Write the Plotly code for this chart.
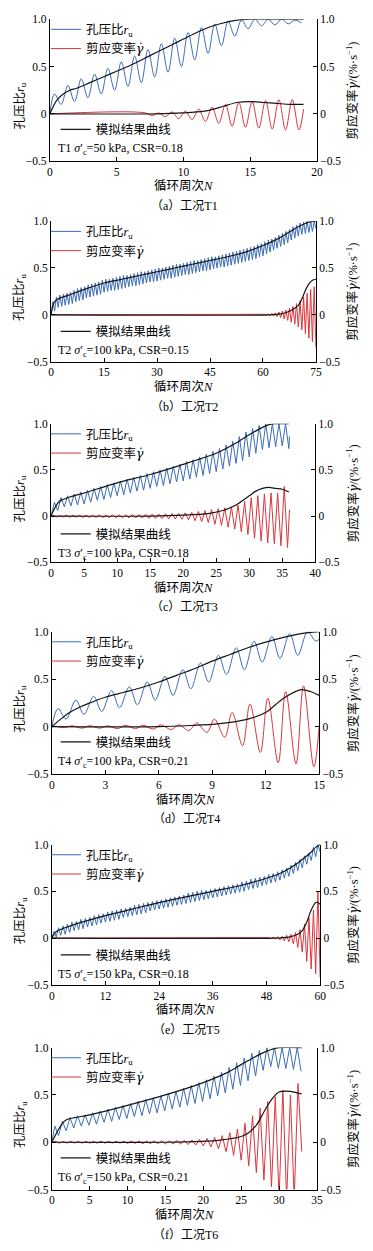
import plotly.graph_objects as go

W, H = 373, 1251
FONT = "Liberation Serif, Noto Sans CJK SC, serif"
BLUE = "#3b6db5"
RED = "#db353c"
BLACK = "#161616"

# ================= DATA =================
# T1
t1_xticks = [0, 5, 10, 15, 20]
t1_ru_hi = [0.21, 0.30, 0.37, 0.42, 0.48, 0.55, 0.61, 0.68, 0.74, 0.80,
            0.86, 0.91, 0.95, 0.98, 0.99, 1.00, 1.00, 1.00, 0.99]
t1_ru_lo = [0.10, 0.13, 0.17, 0.21, 0.25, 0.29, 0.33, 0.39, 0.44, 0.50,
            0.57, 0.64, 0.72, 0.82, 0.90, 0.93, 0.94, 0.95, 0.96]
t1_g_hi = [0.01, 0.01, 0.02, 0.03, 0.05, 0.07, 0.10, 0.12, 0.13, 0.14, 0.15, 0.15]
t1_g_lo = [-0.02, -0.03, -0.05, -0.06, -0.08, -0.10, -0.13, -0.14, -0.15, -0.16, -0.17, -0.17]
t1_g_end = [19.0, 0.05]
t1_m_N = [0, 0.5, 1, 1.5, 2, 3, 4, 5, 6, 7, 8, 9, 10, 11, 12, 13, 14, 15, 17, 19]
t1_m_ru = [0, 0.14, 0.21, 0.25, 0.27, 0.33, 0.39, 0.45, 0.51, 0.58, 0.65, 0.72, 0.79, 0.86, 0.92, 0.96, 0.99, 1.0, 1.0, 1.0]
t1_m_gN = [0, 8, 10, 11, 12, 13, 14, 15, 16, 17, 18, 19]
t1_m_g = [0, 0, 0.01, 0.02, 0.04, 0.08, 0.12, 0.13, 0.12, 0.11, 0.10, 0.10]

# T2
t2_xticks = [0, 15, 30, 45, 60, 75]
t2_ru_hi = [0.14, 0.19, 0.21, 0.22, 0.23, 0.24, 0.26, 0.28, 0.29, 0.30,
            0.32, 0.33, 0.34, 0.35, 0.37, 0.38, 0.38, 0.39, 0.40, 0.41,
            0.42, 0.42, 0.43, 0.44, 0.45, 0.46, 0.46, 0.47, 0.48, 0.49,
            0.50, 0.50, 0.51, 0.52, 0.53, 0.54, 0.54, 0.55, 0.56, 0.57,
            0.58, 0.58, 0.59, 0.60, 0.61, 0.62, 0.62, 0.63, 0.64, 0.65,
            0.66, 0.67, 0.68, 0.69, 0.70, 0.71, 0.72, 0.73, 0.75, 0.76,
            0.78, 0.80, 0.81, 0.83, 0.85, 0.87, 0.89, 0.91, 0.94, 0.96,
            0.98, 0.99, 1.00, 1.00, 1.00]
t2_ru_lo = [0.04, 0.08, 0.09, 0.10, 0.11, 0.12, 0.14, 0.15, 0.16, 0.18,
            0.19, 0.20, 0.21, 0.22, 0.24, 0.25, 0.26, 0.26, 0.27, 0.28,
            0.29, 0.30, 0.31, 0.31, 0.32, 0.33, 0.34, 0.35, 0.35, 0.36,
            0.37, 0.38, 0.39, 0.39, 0.40, 0.41, 0.42, 0.43, 0.43, 0.44,
            0.45, 0.46, 0.47, 0.47, 0.48, 0.49, 0.50, 0.51, 0.51, 0.52,
            0.53, 0.54, 0.55, 0.56, 0.57, 0.58, 0.59, 0.60, 0.62, 0.63,
            0.65, 0.67, 0.69, 0.71, 0.73, 0.75, 0.77, 0.80, 0.82, 0.84,
            0.86, 0.87, 0.88, 0.89, 0.92]
t2_g_hi = [0.005, 0.01, 0.015, 0.02, 0.03, 0.04, 0.05, 0.07, 0.09, 0.12, 0.15, 0.19, 0.23, 0.27, 0.30]
t2_g_lo = [-0.005, -0.01, -0.015, -0.02, -0.03, -0.045, -0.06, -0.08, -0.10, -0.13, -0.16, -0.20, -0.25, -0.29, -0.35]
t2_m_N = [0, 0.5, 1, 2, 5, 10, 15, 20, 25, 30, 35, 40, 45, 50, 55, 60, 63, 66, 69, 71, 73, 75]
t2_m_ru = [0, 0.10, 0.14, 0.17, 0.21, 0.28, 0.34, 0.38, 0.42, 0.46, 0.50, 0.54, 0.58, 0.62, 0.67, 0.74, 0.79, 0.85, 0.92, 0.96, 0.99, 1.0]
t2_m_gN = [0, 62, 65, 67, 69, 70, 71, 72, 73, 74, 75]
t2_m_g = [0, 0, 0.01, 0.03, 0.07, 0.10, 0.17, 0.26, 0.33, 0.37, 0.38]

# T3
t3_xticks = [0, 5, 10, 15, 20, 25, 30, 35, 40]
t3_ru_hi = [0.15, 0.20, 0.22, 0.24, 0.26, 0.28, 0.30, 0.32, 0.34, 0.36,
            0.38, 0.40, 0.42, 0.44, 0.46, 0.48, 0.50, 0.52, 0.54, 0.56,
            0.59, 0.61, 0.64, 0.67, 0.70, 0.73, 0.77, 0.81, 0.86, 0.91,
            0.95, 0.98, 1.00, 1.00, 1.00, 1.00]
t3_ru_lo = [0.06, 0.10, 0.11, 0.12, 0.13, 0.15, 0.17, 0.18, 0.20, 0.22,
            0.23, 0.25, 0.27, 0.28, 0.30, 0.32, 0.33, 0.35, 0.37, 0.38,
            0.40, 0.42, 0.44, 0.46, 0.48, 0.51, 0.54, 0.57, 0.60, 0.64,
            0.68, 0.72, 0.74, 0.75, 0.76, 0.73]
t3_ru_end = [36.1, 0.86]
t3_g_hi = [0.005, 0.005, 0.008, 0.008, 0.01, 0.01, 0.01, 0.012, 0.012, 0.015,
           0.015, 0.015, 0.018, 0.018, 0.02, 0.02, 0.022, 0.025, 0.028, 0.03,
           0.035, 0.04, 0.05, 0.06, 0.07, 0.08, 0.09, 0.10, 0.12, 0.16,
           0.20, 0.22, 0.24, 0.25, 0.25, 0.32]
t3_g_lo = [-0.01, -0.01, -0.012, -0.012, -0.015, -0.015, -0.015, -0.018, -0.018, -0.02,
           -0.02, -0.02, -0.022, -0.022, -0.025, -0.025, -0.028, -0.03, -0.032, -0.035,
           -0.04, -0.05, -0.06, -0.07, -0.09, -0.10, -0.12, -0.14, -0.17, -0.20,
           -0.24, -0.27, -0.29, -0.30, -0.32, -0.34]
t3_g_end = [36.1, 0.07]
t3_m_N = [0, 0.5, 1, 1.5, 3, 5, 10, 15, 20, 25, 28, 30, 32, 33, 34, 36]
t3_m_ru = [0, 0.08, 0.14, 0.17, 0.21, 0.25, 0.36, 0.45, 0.56, 0.68, 0.79, 0.88, 0.96, 0.99, 1.0, 1.0]
t3_m_gN = [0, 15, 20, 24, 26, 28, 30, 31, 32, 33, 34, 35, 36]
t3_m_g = [0, 0, 0.01, 0.03, 0.06, 0.12, 0.22, 0.27, 0.30, 0.31, 0.30, 0.29, 0.26]

# T4
t4_xticks = [0, 3, 6, 9, 12, 15]
t4_ru_hi = [0.19, 0.28, 0.32, 0.38, 0.42, 0.47, 0.53, 0.60, 0.67, 0.75, 0.83, 0.90, 0.95, 0.98, 1.00]
t4_ru_lo = [0.08, 0.13, 0.16, 0.20, 0.23, 0.28, 0.33, 0.40, 0.47, 0.55, 0.60, 0.68, 0.72, 0.75, 0.90]
t4_ru_end = [15.0, 0.92]
t4_g_hi = [0.005, 0.01, 0.01, 0.01, 0.015, 0.015, 0.02, 0.02, 0.04, 0.08, 0.15, 0.24, 0.30, 0.37, 0.43]
t4_g_lo = [-0.01, -0.015, -0.015, -0.02, -0.02, -0.025, -0.03, -0.04, -0.06, -0.11, -0.20, -0.27, -0.38, -0.39, -0.42]
t4_g_end = [15.0, 0.0]
t4_m_N = [0, 0.5, 1, 1.5, 2, 3, 4, 5, 6, 7, 8, 9, 10, 11, 12, 13, 14, 15]
t4_m_ru = [0, 0.08, 0.15, 0.20, 0.24, 0.31, 0.36, 0.41, 0.47, 0.54, 0.61, 0.69, 0.76, 0.83, 0.89, 0.94, 0.98, 1.0]
t4_m_gN = [0, 6, 8, 9, 10, 11, 12, 13, 14, 14.5, 15]
t4_m_g = [0, 0, 0.015, 0.025, 0.045, 0.08, 0.15, 0.30, 0.39, 0.37, 0.33]

# T5
t5_xticks = [0, 12, 24, 36, 48, 60]
t5_ru_hi = [0.07, 0.11, 0.13, 0.15, 0.17, 0.18, 0.20, 0.21, 0.22, 0.24,
            0.25, 0.26, 0.28, 0.29, 0.30, 0.31, 0.32, 0.33, 0.35, 0.36,
            0.37, 0.38, 0.39, 0.40, 0.41, 0.42, 0.43, 0.44, 0.45, 0.46,
            0.48, 0.49, 0.50, 0.51, 0.51, 0.52, 0.53, 0.54, 0.55, 0.56,
            0.57, 0.58, 0.60, 0.61, 0.63, 0.64, 0.65, 0.66, 0.68, 0.69,
            0.71, 0.73, 0.75, 0.78, 0.81, 0.84, 0.88, 0.91, 0.97, 1.00]
t5_ru_lo = [0.01, 0.03, 0.04, 0.06, 0.08, 0.09, 0.10, 0.12, 0.13, 0.14,
            0.16, 0.17, 0.18, 0.19, 0.20, 0.22, 0.23, 0.24, 0.25, 0.26,
            0.27, 0.29, 0.30, 0.31, 0.32, 0.33, 0.34, 0.35, 0.36, 0.37,
            0.38, 0.39, 0.40, 0.41, 0.42, 0.43, 0.44, 0.45, 0.46, 0.47,
            0.48, 0.49, 0.50, 0.52, 0.53, 0.54, 0.56, 0.57, 0.59, 0.60,
            0.62, 0.64, 0.66, 0.69, 0.72, 0.75, 0.79, 0.83, 0.87, 0.92]
t5_g_hi = [0.005, 0.01, 0.015, 0.02, 0.03, 0.04, 0.06, 0.09, 0.15, 0.22, 0.30, 0.50]
t5_g_lo = [-0.005, -0.01, -0.02, -0.03, -0.04, -0.06, -0.10, -0.15, -0.25, -0.33, -0.38, -0.42]
t5_m_N = [0, 1, 3, 6, 12, 18, 24, 30, 36, 42, 48, 51, 54, 56, 58, 59, 60]
t5_m_ru = [0, 0.07, 0.11, 0.16, 0.24, 0.31, 0.38, 0.44, 0.50, 0.56, 0.64, 0.69, 0.77, 0.84, 0.92, 0.97, 1.0]
t5_m_gN = [0, 50, 53, 55, 56, 57, 58, 59, 59.5, 60]
t5_m_g = [0, 0, 0.01, 0.04, 0.08, 0.17, 0.30, 0.38, 0.38, 0.36]

# T6
t6_xticks = [0, 5, 10, 15, 20, 25, 30, 35]
t6_ru_hi = [0.17, 0.22, 0.26, 0.28, 0.29, 0.31, 0.33, 0.35, 0.37, 0.39,
            0.41, 0.43, 0.45, 0.47, 0.49, 0.52, 0.54, 0.57, 0.60, 0.63,
            0.66, 0.70, 0.74, 0.79, 0.84, 0.89, 0.94, 0.97, 1.00, 1.00,
            1.00, 1.00, 1.00]
t6_ru_lo = [0.07, 0.12, 0.15, 0.17, 0.18, 0.19, 0.21, 0.22, 0.24, 0.25,
            0.27, 0.28, 0.30, 0.31, 0.33, 0.35, 0.37, 0.39, 0.41, 0.43,
            0.46, 0.49, 0.52, 0.56, 0.60, 0.65, 0.70, 0.76, 0.80, 0.78,
            0.78, 0.77, 0.75]
t6_g_hi = [0.01, 0.01, 0.01, 0.01, 0.01, 0.01, 0.01, 0.01, 0.01, 0.01,
           0.012, 0.012, 0.012, 0.015, 0.015, 0.015, 0.02, 0.02, 0.025, 0.03,
           0.04, 0.05, 0.07, 0.10, 0.14, 0.20, 0.28, 0.36, 0.43, 0.48,
           0.55, 0.50, 0.62]
t6_g_lo = [-0.01, -0.01, -0.01, -0.01, -0.01, -0.01, -0.01, -0.01, -0.01, -0.012,
           -0.012, -0.015, -0.015, -0.015, -0.018, -0.02, -0.02, -0.025, -0.03, -0.04,
           -0.05, -0.07, -0.10, -0.14, -0.19, -0.25, -0.32, -0.40, -0.47, -0.60,
           -0.60, -0.60, -0.10]
t6_m_N = [0, 0.5, 1, 1.5, 2, 3, 5, 10, 15, 20, 23, 25, 27, 28, 29, 30, 33]
t6_m_ru = [0, 0.08, 0.15, 0.21, 0.24, 0.26, 0.29, 0.39, 0.50, 0.63, 0.73, 0.82, 0.91, 0.95, 0.98, 1.0, 1.0]
t6_m_gN = [0, 15, 20, 22, 25, 26, 27, 28, 29, 30, 31, 32, 33]
t6_m_g = [0, 0, 0.01, 0.02, 0.06, 0.10, 0.18, 0.32, 0.45, 0.53, 0.54, 0.53, 0.51]

y_ticks = [-0.5, 0, 0.5, 1.0]
y_ticktext = ["\u22120.5", "0", "0.5", "1.0"]

# ================= options built from the data =================
panels = [
    dict(tag="T1", letter="a", sig=50, csr="0.18", xmax=20, xticks=t1_xticks,
         ru=(t1_ru_hi, t1_ru_lo, 0, 0.35, 0.85, None), g=(t1_g_hi, t1_g_lo, 7, 0.15, 0.65, t1_g_end),
         m=(t1_m_N, t1_m_ru, t1_m_gN, t1_m_g), shape="spline"),
    dict(tag="T2", letter="b", sig=100, csr="0.15", xmax=75, xticks=t2_xticks,
         ru=(t2_ru_hi, t2_ru_lo, 0, 0.5, 1.0, None), g=(t2_g_hi, t2_g_lo, 60, 0.5, 1.0, None),
         m=(t2_m_N, t2_m_ru, t2_m_gN, t2_m_g), shape="linear"),
    dict(tag="T3", letter="c", sig=100, csr="0.18", xmax=40, xticks=t3_xticks,
         ru=(t3_ru_hi, t3_ru_lo, 0, 0.5, 1.0, t3_ru_end), g=(t3_g_hi, t3_g_lo, 0, 0.3, 0.8, t3_g_end),
         m=(t3_m_N, t3_m_ru, t3_m_gN, t3_m_g), shape="linear"),
    dict(tag="T4", letter="d", sig=100, csr="0.21", xmax=15, xticks=t4_xticks,
         ru=(t4_ru_hi, t4_ru_lo, 0, 0.35, 0.8, t4_ru_end), g=(t4_g_hi, t4_g_lo, 0, 0.12, 0.7, t4_g_end),
         m=(t4_m_N, t4_m_ru, t4_m_gN, t4_m_g), shape="spline"),
    dict(tag="T5", letter="e", sig=150, csr="0.18", xmax=60, xticks=t5_xticks,
         ru=(t5_ru_hi, t5_ru_lo, 0, 0.5, 1.0, None), g=(t5_g_hi, t5_g_lo, 48, 0.5, 1.0, None),
         m=(t5_m_N, t5_m_ru, t5_m_gN, t5_m_g), shape="linear"),
    dict(tag="T6", letter="f", sig=150, csr="0.21", xmax=35, xticks=t6_xticks,
         ru=(t6_ru_hi, t6_ru_lo, 0, 0.4, 0.9, None), g=(t6_g_hi, t6_g_lo, 0, 0.5, 1.0, None),
         m=(t6_m_N, t6_m_ru, t6_m_gN, t6_m_g), shape="linear"),
]

# plot-area boxes in page pixels: top, bottom, left, right (layout only)
BOXES = [(13.3, 156.7, 48, 321.7), (217.3, 359, 49.3, 320.7), (421.7, 561.7, 49.3, 320),
         (631.7, 775.7, 50, 324), (846.7, 988.3, 50, 325), (1051.7, 1195, 50, 321.7)]

GDOT = "<i><span style=\"font-family:DejaVu Serif\">γ̇</span></i>"


def osc(hi, lo, start, ph_hi, ph_lo, end):
    xs, ys = [0.0], [0.0]
    for k, (a, b) in enumerate(zip(hi, lo)):
        xs += [start + k + ph_hi, start + k + ph_lo]
        ys += [a, b]
    if end:
        xs.append(end[0])
        ys.append(end[1])
    return xs, ys


def px(x):
    return x / W


def py(y):
    return 1 - y / H


fig = go.Figure()
layout = dict(width=W, height=H, margin=dict(l=0, r=0, t=0, b=0),
              paper_bgcolor="white", plot_bgcolor="white", annotations=[])
tickfont = dict(family=FONT, size=11.5, color="black")
axis_common = dict(ticks="inside", ticklen=4, tickwidth=1, tickcolor="black", showline=True,
                   linecolor="black", linewidth=1, showgrid=False, zeroline=False,
                   tickfont=tickfont, fixedrange=True)

for i, p in enumerate(panels):
    n = i + 1
    top, bot, left, right = BOXES[i]
    xid = "x" if n == 1 else f"x{n}"
    yl = 2 * n - 1
    yr = 2 * n
    ylid = "y" if yl == 1 else f"y{yl}"
    yrid = f"y{yr}"
    xdom = [px(left), px(right)]
    ydom = [py(bot), py(top)]
    layout["xaxis" if n == 1 else f"xaxis{n}"] = dict(
        domain=xdom, range=[0, p["xmax"]], tickvals=p["xticks"],
        ticktext=[str(v) for v in p["xticks"]], anchor=ylid, **axis_common)
    layout["yaxis" if yl == 1 else f"yaxis{yl}"] = dict(
        domain=ydom, range=[-0.5, 1.0], tickvals=y_ticks, ticktext=y_ticktext,
        anchor=xid, side="left", **axis_common)
    layout[f"yaxis{yr}"] = dict(
        domain=ydom, range=[-0.5, 1.0], tickvals=y_ticks, ticktext=y_ticktext,
        anchor=xid, side="right", overlaying=ylid, **axis_common)

    leg1 = "legend" if n == 1 else f"legend{2 * n - 1}"
    leg2 = f"legend{2 * n}"

    rx, ry = osc(*p["ru"])
    gx, gy = osc(*p["g"])
    mN, mru, mgN, mg = p["m"]
    fig.add_trace(go.Scatter(x=rx, y=ry, mode="lines", xaxis=xid, yaxis=ylid,
                             line=dict(color=BLUE, width=1, shape=p["shape"]),
                             name="孔压比<i>r</i><sub>u</sub>", legend=leg1))
    fig.add_trace(go.Scatter(x=gx, y=gy, mode="lines", xaxis=xid, yaxis=yrid,
                             line=dict(color=RED, width=1, shape=p["shape"]),
                             name="剪应变率" + GDOT, legend=leg1))
    fig.add_trace(go.Scatter(x=mN, y=mru, mode="lines", xaxis=xid, yaxis=ylid,
                             line=dict(color=BLACK, width=1.2, shape="spline", smoothing=0.8),
                             name="模拟结果曲线", legend=leg2))
    fig.add_trace(go.Scatter(x=mgN, y=mg, mode="lines", xaxis=xid, yaxis=yrid,
                             line=dict(color=BLACK, width=1.2, shape="spline", smoothing=0.8),
                             name="模拟结果曲线", legend=leg2, showlegend=False))

    legfont = dict(family=FONT, size=12.5, color="black")
    layout[leg1] = dict(x=px(44), y=py(top - 4.5), xanchor="left", yanchor="top",
                        bgcolor="rgba(0,0,0,0)", font=legfont, itemwidth=30,
                        tracegroupgap=0, borderwidth=0)
    layout[leg2] = dict(x=px(54), y=py(top + 96.5), xanchor="left", yanchor="top",
                        bgcolor="rgba(0,0,0,0)", font=legfont, itemwidth=30,
                        tracegroupgap=0, borderwidth=0)

    cx = (left + right) / 2
    cy = (top + bot) / 2
    ann = layout["annotations"]
    ann.append(dict(text=f"{p['tag']} <i>σ</i>′<sub>c</sub>={p['sig']} kPa, CSR={p['csr']}",
                    x=px(54), y=py(top + 131.5), xref="paper", yref="paper",
                    xanchor="left", yanchor="middle", showarrow=False,
                    font=dict(family=FONT, size=12, color="black")))
    ann.append(dict(text="孔压比<i>r</i><sub>u</sub>", x=px(18), y=py(cy + (16 if n == 1 else 6)),
                    xref="paper", yref="paper", textangle=-90, showarrow=False,
                    xanchor="center", yanchor="middle",
                    font=dict(family=FONT, size=12.5, color="black")))
    ann.append(dict(text="剪应变率" + GDOT + "/(%·s<sup>−1</sup>)", x=px(358), y=py(cy),
                    xref="paper", yref="paper", textangle=-90, showarrow=False,
                    xanchor="center", yanchor="middle",
                    font=dict(family=FONT, size=12.5, color="black")))
    ann.append(dict(text="循环周次<i>N</i>", x=px(cx), y=py(bot + 25.5),
                    xref="paper", yref="paper", showarrow=False,
                    xanchor="center", yanchor="middle",
                    font=dict(family=FONT, size=12.5, color="black")))
    ann.append(dict(text=f"（{p['letter']}）工况{p['tag']}", x=px(cx + 1), y=py(bot + 45.5),
                    xref="paper", yref="paper", showarrow=False,
                    xanchor="center", yanchor="middle",
                    font=dict(family=FONT, size=12, color="black")))

fig.update_layout(**layout)
fig.write_html("out.html", config={"displayModeBar": False},
               post_script="document.body.style.margin='0px';document.body.style.padding='0px';")
